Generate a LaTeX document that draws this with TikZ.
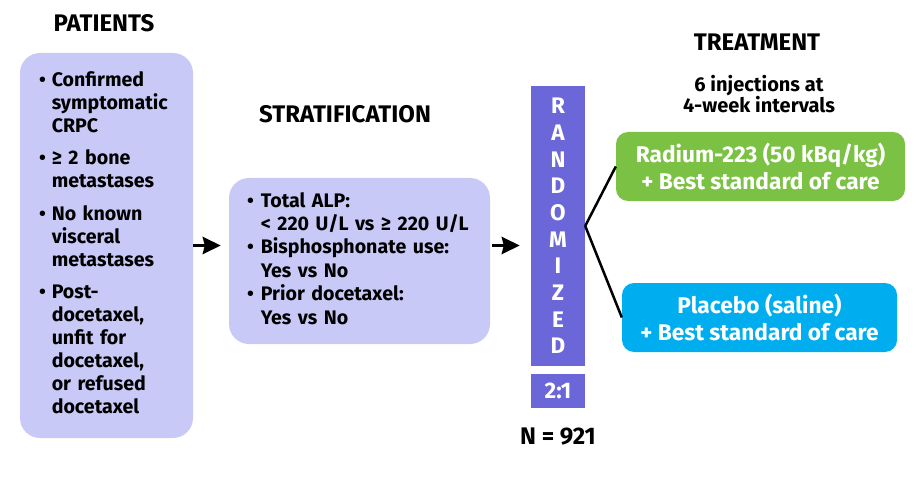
\documentclass[tikz,border=0pt]{standalone}
\usepackage{fontspec}
\setmainfont{Fira Sans}
\usetikzlibrary{arrows.meta}
\definecolor{lilac}{HTML}{C9C9F7}
\definecolor{randblue}{HTML}{6B67D9}
\definecolor{radgreen}{HTML}{7BC143}
\definecolor{plblue}{HTML}{00AEEF}
\tikzset{
  head/.style={font=\bfseries\fontsize{24}{28}\selectfont},
  listbox/.style={fill=lilac, rounded corners=20, inner xsep=19, inner ysep=0,
    align=left, font=\bfseries\fontsize{19.6}{23}\selectfont},
  armbox/.style={rounded corners=12, text=white, align=center, inner sep=0,
    minimum height=69, font=\bfseries\fontsize{22.7}{27}\selectfont},
  randbox/.style={fill=randblue, text=white, align=center, inner sep=0,
    minimum width=54, font=\bfseries\fontsize{22.5}{26.7}\selectfont},
  bigarrow/.style={line width=3.5, -{Stealth[length=18,width=17,inset=2]}},
  arm/.style={line width=2.5}
}
\begin{document}
\begin{tikzpicture}[x=1pt, y=-1pt]
  \useasboundingbox[fill=white] (0,0) rectangle (924,484);

  % headings
  \node[head] (ph) at (104,23) {PATIENTS};
  \node[head] (sh) at (345,114) {STRATIFICATION};
  \node[head] (th) at (757,42) {TREATMENT};
  \node[align=center, font=\bfseries\fontsize{20}{20}\selectfont] (inj) at (759,94)
    {6 injections at\\4-week intervals};

  % patients
  \node[listbox, text width=135, minimum height=385] (P) at (106.5,245.5) {%
    \begin{tabular}{@{}l@{\hspace{6pt}}l@{}}
      \textbullet & Confirmed\\ & symptomatic\\ & CRPC\\[9.5pt]
      \textbullet & ≥ 2 bone\\ & metastases\\[9.5pt]
      \textbullet & No known\\ & visceral\\ & metastases\\[9.5pt]
      \textbullet & Post-\\ & docetaxel,\\ & unfit for\\ & docetaxel,\\ & or refused\\ & docetaxel
    \end{tabular}};

  % stratification
  \node[listbox, font=\bfseries\fontsize{19.6}{23.4}\selectfont, inner xsep=18,
    text width=225, minimum height=166] (S) at (359.5,261) {%
    \begin{tabular}{@{}l@{\hspace{7pt}}l@{}}
      \textbullet & Total ALP:\\ & < 220 U/L vs ≥ 220 U/L\\
      \textbullet & Bisphosphonate use:\\ & Yes vs No\\
      \textbullet & Prior docetaxel:\\ & Yes vs No
    \end{tabular}};

  % randomization
  \node[randbox, minimum height=280] (R) at (558,226) {R\\A\\N\\D\\O\\M\\I\\Z\\E\\D};
  \node[randbox, minimum height=34] (ratio) at (558,391) {2:1};
  \node[font=\bfseries\fontsize{24}{28}\selectfont] (N) at (558,437) {N = 921};

  % arms
  \node[armbox, fill=radgreen, minimum width=289] (rad) at (760.5,166.5)
    {Radium-223 (50 kBq/kg)\\+ Best standard of care};
  \node[armbox, fill=plblue, minimum width=275] (pla) at (759.5,317.5)
    {Placebo (saline)\\+ Best standard of care};

  \draw[bigarrow, shorten >=8] (P.east) -- (P.east -| S.west);
  \draw[bigarrow, shorten <=2, shorten >=11] (P.east -| S.east) -- (P.east -| R.west);
  \draw[arm] (R.east) -- (rad.west);
  \draw[arm] (R.east) -- (pla.west);
\end{tikzpicture}
\end{document}
